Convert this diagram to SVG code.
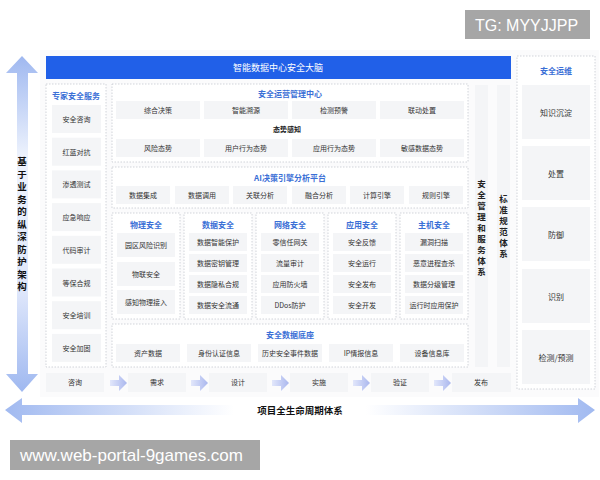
<svg xmlns="http://www.w3.org/2000/svg" width="600" height="480" viewBox="0 0 600 480">
<defs>
<linearGradient id="gv" x1="0" y1="56" x2="0" y2="392" gradientUnits="userSpaceOnUse">
<stop offset="0" stop-color="#9fb8f0"/>
<stop offset="0.3" stop-color="#eef3fd"/>
<stop offset="0.7" stop-color="#dfe7fb"/>
<stop offset="1" stop-color="#9fb8f0"/>
</linearGradient>
<linearGradient id="gh" x1="0" y1="0" x2="600" y2="0" gradientUnits="userSpaceOnUse">
<stop offset="0" stop-color="#9fb8f0"/>
<stop offset="0.39" stop-color="#ffffff"/>
<stop offset="0.61" stop-color="#ffffff"/>
<stop offset="1" stop-color="#9fb8f0"/>
</linearGradient>
<linearGradient id="ga" x1="0" y1="0" x2="1" y2="0">
<stop offset="0" stop-color="#e2e7fb"/>
<stop offset="1" stop-color="#aab7ee"/>
</linearGradient>
<path id="parr" d="M-9,-3 h9 v-5 l8,8 l-8,8 v-5 h-9 z" fill="url(#ga)"/>
</defs>
<style>
.box{fill:#ffffff;stroke:#c6cad1;stroke-width:0.8;stroke-dasharray:1.5 1.5}
.it{fill:#f4f5f7}
.t{font-family:"Noto Sans CJK SC","Liberation Sans",sans-serif;font-size:7px;fill:#333333;text-anchor:middle;dominant-baseline:central}
.h{font-size:8px;fill:#3b6fd6;font-weight:bold}
.v{font-size:9.5px;fill:#111111;font-weight:bold}
.vr{font-size:8.5px;fill:#222222;font-weight:bold}
.wm{font-family:"Liberation Sans",sans-serif;fill:#ffffff;dominant-baseline:central}
</style>
<rect width="600" height="480" fill="#ffffff"/>
<rect x="40" y="50" width="559" height="347" fill="#fbfbfc"/>

<g id="connectors">
<path d="M22,56 L38,73 L28,73 L28,374 L38,374 L22,392 L6,374 L17,374 L17,73 L6,73 Z" fill="url(#gv)"/>
<path d="M5,410 L22,398 L22,405 L578,405 L578,398 L595,410 L578,423 L578,415 L22,415 L22,423 Z" fill="url(#gh)"/>
<path d="M158,140 V136 H422 V140" fill="none" stroke="#c8ccd3" stroke-width="1"/>
<use href="#parr" x="119" y="383"/>
<use href="#parr" x="200" y="383"/>
<use href="#parr" x="281" y="383"/>
<use href="#parr" x="362" y="383"/>
<use href="#parr" x="443" y="383"/>
</g>

<text class="t v"><tspan x="22" y="161">基</tspan><tspan x="22" y="173.5">于</tspan><tspan x="22" y="186">业</tspan><tspan x="22" y="198.5">务</tspan><tspan x="22" y="211">的</tspan><tspan x="22" y="223.5">纵</tspan><tspan x="22" y="236">深</tspan><tspan x="22" y="248.5">防</tspan><tspan x="22" y="261">护</tspan><tspan x="22" y="273.5">架</tspan><tspan x="22" y="286">构</tspan></text>
<text class="t v" x="300" y="410" style="font-size:9.5px">项目全生命周期体系</text>

<g id="title">
<rect x="46" y="56" width="465" height="23" fill="#2160e8"/>
<text class="t" x="278" y="67.5" style="font-size:9px;fill:#ffffff">智能数据中心安全大脑</text>
</g>

<g id="expert">
<rect class="box" x="46" y="84" width="60" height="283"/>
<text class="t h" x="76" y="95">专家安全服务</text>
<rect class="it" x="52" y="105" width="49" height="28"/><text class="t" x="76.5" y="119">安全咨询</text>
<rect class="it" x="52" y="137.7" width="49" height="28"/><text class="t" x="76.5" y="151.7">红蓝对抗</text>
<rect class="it" x="52" y="170.4" width="49" height="28"/><text class="t" x="76.5" y="184.4">渗透测试</text>
<rect class="it" x="52" y="203.1" width="49" height="28"/><text class="t" x="76.5" y="217.1">应急响应</text>
<rect class="it" x="52" y="235.8" width="49" height="28"/><text class="t" x="76.5" y="249.8">代码审计</text>
<rect class="it" x="52" y="268.5" width="49" height="28"/><text class="t" x="76.5" y="282.5">等保合规</text>
<rect class="it" x="52" y="301.2" width="49" height="28"/><text class="t" x="76.5" y="315.2">安全培训</text>
<rect class="it" x="52" y="333.9" width="49" height="28"/><text class="t" x="76.5" y="347.9">安全加固</text>
</g>

<g id="soc">
<rect class="box" x="112" y="84" width="356" height="78"/>
<text class="t h" x="290" y="93">安全运营管理中心</text>
<rect class="it" x="116" y="101" width="84" height="18"/><text class="t" x="158" y="110">综合决策</text>
<rect class="it" x="204" y="101" width="84" height="18"/><text class="t" x="246" y="110">智能溯源</text>
<rect class="it" x="292" y="101" width="84" height="18"/><text class="t" x="334" y="110">检测预警</text>
<rect class="it" x="380" y="101" width="84" height="18"/><text class="t" x="422" y="110">联动处置</text>
<text class="t" x="287" y="129" style="font-weight:bold;fill:#222">态势感知</text>
<rect class="it" x="116" y="139" width="84" height="18"/><text class="t" x="158" y="148">风险态势</text>
<rect class="it" x="204" y="139" width="84" height="18"/><text class="t" x="246" y="148">用户行为态势</text>
<rect class="it" x="292" y="139" width="84" height="18"/><text class="t" x="334" y="148">应用行为态势</text>
<rect class="it" x="380" y="139" width="84" height="18"/><text class="t" x="422" y="148">敏感数据态势</text>
</g>

<g id="ai">
<rect class="box" x="112" y="167" width="356" height="41"/>
<text class="t h" x="290" y="177">AI决策引擎分析平台</text>
<rect class="it" x="116" y="186" width="54" height="18"/><text class="t" x="143" y="195">数据集成</text>
<rect class="it" x="175" y="186" width="54" height="18"/><text class="t" x="202" y="195">数据调用</text>
<rect class="it" x="233" y="186" width="54" height="18"/><text class="t" x="260" y="195">关联分析</text>
<rect class="it" x="292" y="186" width="54" height="18"/><text class="t" x="319" y="195">融合分析</text>
<rect class="it" x="350" y="186" width="54" height="18"/><text class="t" x="377" y="195">计算引擎</text>
<rect class="it" x="409" y="186" width="54" height="18"/><text class="t" x="436" y="195">规则引擎</text>
</g>

<g id="physical">
<rect class="box" x="112" y="213" width="68" height="106"/>
<text class="t h" x="146" y="224">物理安全</text>
<rect class="it" x="117" y="233" width="58" height="24"/><text class="t" x="146" y="245">园区风险识别</text>
<rect class="it" x="117" y="262" width="58" height="24"/><text class="t" x="146" y="274">物联安全</text>
<rect class="it" x="117" y="290" width="58" height="24"/><text class="t" x="146" y="302">感知物理接入</text>
</g>

<g id="data">
<rect class="box" x="184" y="213" width="68" height="106"/>
<text class="t h" x="218" y="224">数据安全</text>
<rect class="it" x="189" y="233" width="58" height="18"/><text class="t" x="218" y="242">数据智能保护</text>
<rect class="it" x="189" y="254" width="58" height="18"/><text class="t" x="218" y="263">数据密钥管理</text>
<rect class="it" x="189" y="275" width="58" height="18"/><text class="t" x="218" y="284">数据隐私合规</text>
<rect class="it" x="189" y="296" width="58" height="18"/><text class="t" x="218" y="305">数据安全流通</text>
</g>

<g id="network">
<rect class="box" x="256" y="213" width="68" height="106"/>
<text class="t h" x="290" y="224">网络安全</text>
<rect class="it" x="261" y="233" width="58" height="18"/><text class="t" x="290" y="242">零信任网关</text>
<rect class="it" x="261" y="254" width="58" height="18"/><text class="t" x="290" y="263">流量审计</text>
<rect class="it" x="261" y="275" width="58" height="18"/><text class="t" x="290" y="284">应用防火墙</text>
<rect class="it" x="261" y="296" width="58" height="18"/><text class="t" x="290" y="305">DDos防护</text>
</g>

<g id="application">
<rect class="box" x="328" y="213" width="68" height="106"/>
<text class="t h" x="362" y="224">应用安全</text>
<rect class="it" x="333" y="233" width="58" height="18"/><text class="t" x="362" y="242">安全反馈</text>
<rect class="it" x="333" y="254" width="58" height="18"/><text class="t" x="362" y="263">安全运行</text>
<rect class="it" x="333" y="275" width="58" height="18"/><text class="t" x="362" y="284">安全发布</text>
<rect class="it" x="333" y="296" width="58" height="18"/><text class="t" x="362" y="305">安全开发</text>
</g>

<g id="host">
<rect class="box" x="400" y="213" width="68" height="106"/>
<text class="t h" x="434" y="224">主机安全</text>
<rect class="it" x="405" y="233" width="58" height="18"/><text class="t" x="434" y="242">漏洞扫描</text>
<rect class="it" x="405" y="254" width="58" height="18"/><text class="t" x="434" y="263">恶意进程查杀</text>
<rect class="it" x="405" y="275" width="58" height="18"/><text class="t" x="434" y="284">数据分级管理</text>
<rect class="it" x="405" y="296" width="58" height="18"/><text class="t" x="434" y="305">运行时应用保护</text>
</g>

<g id="database">
<rect class="box" x="112" y="324" width="356" height="43"/>
<text class="t h" x="290" y="334">安全数据底座</text>
<rect class="it" x="116" y="344" width="64" height="18"/><text class="t" x="148" y="353">资产数据</text>
<rect class="it" x="187" y="344" width="64" height="18"/><text class="t" x="219" y="353">身份认证信息</text>
<rect class="it" x="258" y="344" width="64" height="18"/><text class="t" x="290" y="353">历史安全事件数据</text>
<rect class="it" x="329" y="344" width="64" height="18"/><text class="t" x="361" y="353">IP情报信息</text>
<rect class="it" x="400" y="344" width="64" height="18"/><text class="t" x="432" y="353">设备信息库</text>
</g>

<g id="mgmt">
<rect class="it" x="475" y="85" width="13" height="282"/>
<text class="t vr"><tspan x="481.5" y="183">安</tspan><tspan x="481.5" y="194">全</tspan><tspan x="481.5" y="205">管</tspan><tspan x="481.5" y="216">理</tspan><tspan x="481.5" y="227">和</tspan><tspan x="481.5" y="238">服</tspan><tspan x="481.5" y="249">务</tspan><tspan x="481.5" y="260">体</tspan><tspan x="481.5" y="271">系</tspan></text>
</g>

<g id="standard">
<rect class="it" x="497" y="85" width="13" height="282"/>
<text class="t vr"><tspan x="503.5" y="198">标</tspan><tspan x="503.5" y="209">准</tspan><tspan x="503.5" y="220">规</tspan><tspan x="503.5" y="231">范</tspan><tspan x="503.5" y="242">体</tspan><tspan x="503.5" y="253">系</tspan></text>
</g>

<g id="ops">
<rect class="box" x="517" y="56" width="78" height="333"/>
<text class="t h" x="556" y="70">安全运维</text>
<rect class="it" x="522" y="85" width="68" height="54"/><text class="t" x="556" y="112" style="font-size:8px">知识沉淀</text>
<rect class="it" x="522" y="146" width="68" height="54"/><text class="t" x="556" y="173" style="font-size:8px">处置</text>
<rect class="it" x="522" y="207" width="68" height="54"/><text class="t" x="556" y="234" style="font-size:8px">防御</text>
<rect class="it" x="522" y="269" width="68" height="54"/><text class="t" x="556" y="296" style="font-size:8px">识别</text>
<rect class="it" x="522" y="330" width="68" height="54"/><text class="t" x="556" y="357" style="font-size:8px">检测/预测</text>
</g>

<g id="process">
<rect class="it" x="46" y="373" width="58" height="19"/><text class="t" x="75" y="382">咨询</text>
<rect class="it" x="128" y="373" width="58" height="19"/><text class="t" x="157" y="382">需求</text>
<rect class="it" x="209" y="373" width="58" height="19"/><text class="t" x="238" y="382">设计</text>
<rect class="it" x="290" y="373" width="58" height="19"/><text class="t" x="319" y="382">实施</text>
<rect class="it" x="371" y="373" width="58" height="19"/><text class="t" x="400" y="382">验证</text>
<rect class="it" x="452" y="373" width="59" height="19"/><text class="t" x="481" y="382">发布</text>
</g>

<g id="watermarks">
<rect x="465" y="10" width="125" height="29" fill="#a6a6a6"/>
<text class="wm" x="475" y="25" style="font-size:16px">TG: MYYJJPP</text>
<rect x="10" y="440" width="250" height="30" fill="#a6a6a6"/>
<text class="wm" x="20" y="455" style="font-size:17px">www.web-portal-9games.com</text>
</g>
</svg>
